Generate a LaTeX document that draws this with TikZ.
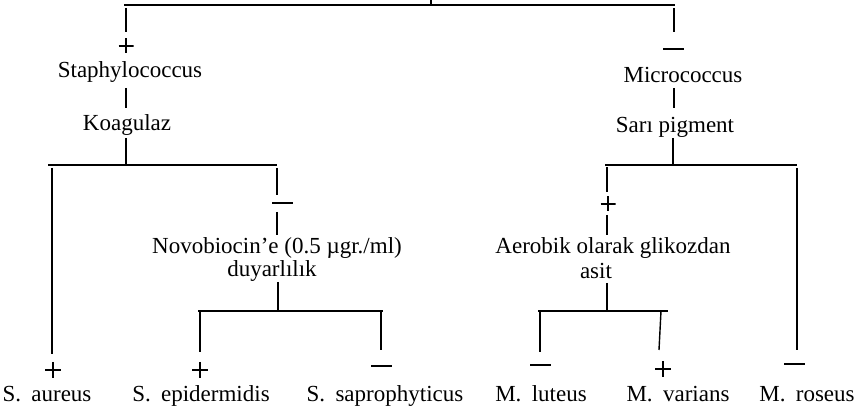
\documentclass[tikz,border=0pt]{standalone}
\usepackage{fontspec}
\setmainfont{Liberation Serif}
\begin{document}
\begin{tikzpicture}[x=1pt,y=-1pt,
  lbl/.style={inner sep=0pt,font=\fontsize{23}{25}\selectfont,align=center},
  leaf/.style={lbl,anchor=base},
  ln/.style={line width=1.4pt,black},
  plus/.style={inner sep=0pt,minimum size=#1,
    path picture={\draw[line width=1.2pt]
      (path picture bounding box.west) -- (path picture bounding box.east)
      (path picture bounding box.north) -- (path picture bounding box.south);}},
  plus/.default=16pt,
  minus/.style={inner sep=0pt,minimum width=21pt,minimum height=2pt,fill=black}]
\useasboundingbox (0,0) rectangle (863,414);
% text nodes
\node[lbl] (staph) at (130,72) {Staphylococcus};
\node[lbl] (koag) at (127,125) {Koagulaz};
\node[lbl] (micro) at (683,75) {Micrococcus};
\node[lbl] (sari) at (675,127) {Sarı pigment};
\node[lbl] (novo) at (277,248) {Novobiocin’e (0.5 µgr./ml)};
\node[lbl] (duy) at (272,271) {duyarlılık};
\node[lbl] (aer) at (613,248) {Aerobik olarak glikozdan};
\node[lbl] (asit) at (596,271) {asit};
\node[leaf] (saur) at (47,401) {S.\hspace{0.45em}aureus};
\node[leaf] (sepi) at (201,401) {S.\hspace{0.45em}epidermidis};
\node[leaf] (ssap) at (385,401) {S.\hspace{0.45em}saprophyticus};
\node[leaf] (mlut) at (541,401) {M.\hspace{0.45em}luteus};
\node[leaf] (mvar) at (678,401) {M.\hspace{0.45em}varians};
\node[leaf] (mros) at (807,401) {M.\hspace{0.45em}roseus};
% sign nodes
\node[plus=15pt] (p1) at (126,46) {};
\node[minus] (m1) at (673,49) {};
\node[minus] (m2) at (282,203) {};
\node[plus=15pt] (p2) at (608,204) {};
\node[plus] (p3) at (53,370) {};
\node[plus] (p4) at (200,370) {};
\node[minus] (m3) at (381,366) {};
\node[minus] (m4) at (540,365) {};
\node[plus] (p5) at (663,369) {};
\node[minus] (m5) at (794,364) {};
% junction coordinates
\coordinate (top) at (431,0);
\coordinate (topj) at (431,5);
\coordinate (tl) at (124,5);
\coordinate (tr) at (675,5);
\coordinate (kl) at (48,165);
\coordinate (kj) at (126,165);
\coordinate (kr) at (277,165);
\coordinate (nl) at (198,311);
\coordinate (nj) at (278,311);
\coordinate (nr) at (383,311);
\coordinate (sl) at (605,165);
\coordinate (sj) at (673,165);
\coordinate (sr) at (797,165);
\coordinate (al) at (538,311);
\coordinate (aj) at (607,311);
\coordinate (ar) at (668,311);
% top level
\draw[ln] (top) -- (topj);
\draw[ln] (tl) -- (tr);
\draw[ln] (126,8) -- (126,32);
\draw[ln] (126,88) -- (126,108);
\draw[ln] (kj |- 0,138) -- (kj);
\draw[ln] (674,8) -- (674,32);
\draw[ln] (674,88) -- (674,108);
\draw[ln] (sj |- 0,138) -- (sj);
% Koagulaz branch
\draw[ln] (kl) -- (kr);
\draw[ln] (52,168) -- (52,354);
\draw[ln] (277,168) -- (277,195);
\draw[ln] (277,212) -- (277,235);
\draw[ln] (nj |- 0,282) -- (nj);
\draw[ln] (nl) -- (nr);
\draw[ln] (200,311) -- (200,352);
\draw[ln] (381,311) -- (381,350);
% Sari pigment branch
\draw[ln] (sl) -- (sr);
\draw[ln] (797,168) -- (797,350);
\draw[ln] (607,167) -- (607,192);
\draw[ln] (607,215) -- (607,235);
\draw[ln] (aj |- 0,283) -- (aj);
\draw[ln] (al) -- (ar);
\draw[ln] (540,311) -- (540,352);
\draw[ln] (661,311) -- (659,350);
\end{tikzpicture}
\end{document}
